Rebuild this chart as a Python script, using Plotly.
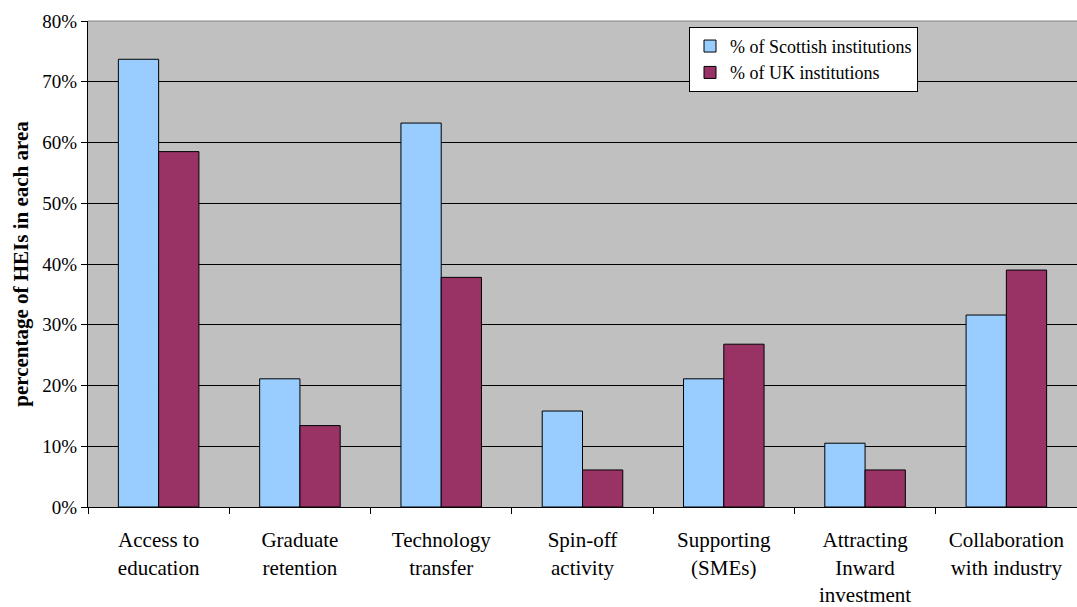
import plotly.graph_objects as go

categories = [
    "Access to<br>education",
    "Graduate<br>retention",
    "Technology<br>transfer",
    "Spin-off<br>activity",
    "Supporting<br>(SMEs)",
    "Attracting<br>Inward<br>investment",
    "Collaboration<br>with industry",
]
scottish_pct = [0.737, 0.211, 0.632, 0.158, 0.211, 0.105, 0.316]
uk_pct = [0.585, 0.134, 0.378, 0.061, 0.268, 0.061, 0.390]

series_names = ["% of Scottish institutions", "% of UK institutions"]
series_colors = ["#99CCFF", "#993366"]

SERIF = "Liberation Serif"
SERIF_BOLD = "Times"

fig = go.Figure()
for name, vals, color in zip(series_names, [scottish_pct, uk_pct], series_colors):
    fig.add_trace(go.Bar(
        x=categories, y=vals, name=name,
        marker=dict(color=color, line=dict(color="#000000", width=1)),
    ))

fig.update_layout(
    width=1077, height=607,
    margin=dict(l=88, r=0, t=21, b=98),
    paper_bgcolor="#FFFFFF",
    plot_bgcolor="#C0C0C0",
    barmode="group",
    bargap=0.43,
    bargroupgap=0,
    font=dict(family=SERIF, size=19, color="#000000"),
    showlegend=True,
    legend=dict(
        x=0.6077, y=0.988, xanchor="left", yanchor="top",
        bgcolor="#FFFFFF", bordercolor="#000000", borderwidth=1,
        font=dict(family=SERIF, size=18, color="#000000"),
        tracegroupgap=0,
    ),
)

fig.update_xaxes(
    showgrid=False, showline=True, linecolor="#000000", linewidth=1,
    ticks="outside", tickson="boundaries", ticklen=6, tickcolor="#000000",
    tickfont=dict(family=SERIF, size=21, color="#000000"),
    ticklabelstandoff=14,
)
fig.update_yaxes(
    range=[0, 0.8], dtick=0.1, tickformat=".0%",
    showgrid=True, gridcolor="#000000", gridwidth=1,
    showline=True, linecolor="#000000", linewidth=1,
    ticks="outside", ticklen=6, tickcolor="#000000",
    tickfont=dict(family=SERIF, size=19, color="#000000"),
    zeroline=False,
    title=dict(
        text="percentage of HEIs in each area",
        font=dict(family=SERIF_BOLD, size=21, color="#000000", weight="bold"),
        standoff=8,
    ),
)

# thin grey border along the top of the plotting area
fig.add_shape(type="line", xref="paper", yref="paper", x0=0, x1=1, y0=1, y1=1,
              line=dict(color="#808080", width=1))

fig.write_html("out.html")
